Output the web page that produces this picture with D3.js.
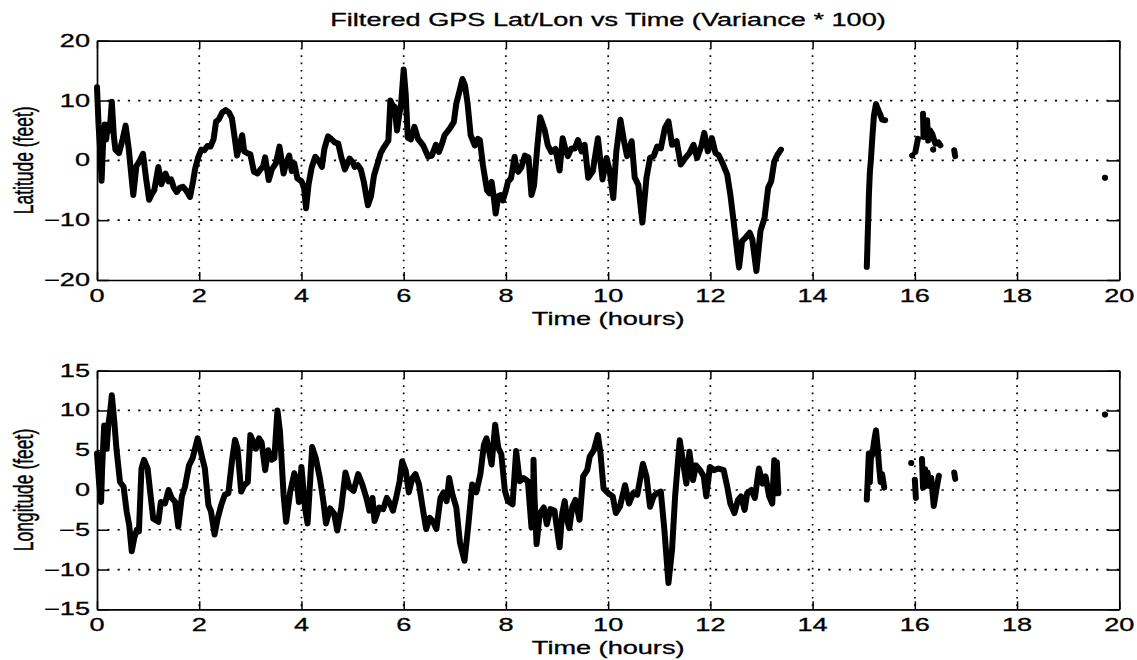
<!DOCTYPE html>
<html><head><meta charset="utf-8">
<script src="https://cdn.jsdelivr.net/npm/d3@7"></script>
<style>
html,body{margin:0;padding:0;background:#fff;}
svg{display:block;}
text{font-family:"Liberation Sans",Arial,Helvetica,sans-serif;fill:#000;}
</style>
</head><body>
<svg id="c" width="1137" height="660"></svg>
<script>
// ---------------- DATA ----------------
const chartTitle = "Filtered GPS Lat/Lon vs Time (Variance * 100)";
const xAxisTitle = "Time (hours)";
const latAxisTitle = "Latitude (feet)";
const lonAxisTitle = "Longitude (feet)";

const timeTicks = [0,2,4,6,8,10,12,14,16,18,20];
const timeTickLabels = ["0","2","4","6","8","10","12","14","16","18","20"];
const latTicks = [-20,-10,0,10,20];
const latTickLabels = ["\u221220","\u221210","0","10","20"];
const lonTicks = [-15,-10,-5,0,5,10,15];
const lonTickLabels = ["\u221215","\u221210","\u22125","0","5","10","15"];

// [time (hours), latitude (feet)], null = gap in the record
const latPoints = [
[0,12.2],[0.03,6],[0.06,2],[0.09,-3.4],[0.12,3],[0.15,6],[0.18,3.5],[0.21,6],[0.25,5],[0.29,9.8],[0.33,4],[0.36,1.8],[0.43,1.2],[0.5,3.5],[0.56,5.8],[0.62,2],[0.71,-5.8],[0.77,-1],[0.84,0],[0.9,1.1],[0.96,-3],[1.02,-6.6],[1.08,-5.5],[1.12,-5],[1.2,-1.1],[1.26,-4],[1.3,-3],[1.34,-2.2],[1.4,-3.5],[1.45,-3.2],[1.5,-4.5],[1.56,-5.3],[1.62,-4.6],[1.68,-4.4],[1.74,-5],[1.82,-6.1],[1.88,-3.5],[1.92,-1.4],[1.98,0.5],[2.04,1.8],[2.1,1.7],[2.16,2.4],[2.22,2.3],[2.28,3.5],[2.33,6.5],[2.38,6.8],[2.45,8],[2.52,8.4],[2.58,8],[2.64,7],[2.69,4],[2.74,0.8],[2.79,2.5],[2.84,4.2],[2.88,1.5],[2.94,1.2],[3.0,1],[3.07,-1.9],[3.14,-2.2],[3.2,-1.5],[3.25,-1.0],[3.29,0.5],[3.36,-3.3],[3.42,-1.5],[3.5,-0.5],[3.57,2.3],[3.65,-2.2],[3.7,-0.5],[3.76,0.8],[3.81,-1.8],[3.86,-0.5],[3.92,-3.0],[4.0,-3.5],[4.05,-4.5],[4.09,-8],[4.14,-4],[4.2,-1.2],[4.27,0.6],[4.33,0],[4.4,-1.1],[4.45,2],[4.52,4],[4.58,3.6],[4.65,3],[4.72,2.8],[4.78,0.5],[4.85,-1.5],[4.94,0.3],[5.0,-0.3],[5.04,-1.1],[5.1,-0.8],[5.16,-1.5],[5.22,-3.6],[5.3,-7.5],[5.36,-6],[5.42,-2.5],[5.48,-0.8],[5.55,1.2],[5.6,2],[5.66,2.8],[5.7,3.3],[5.74,10],[5.78,9.2],[5.82,9],[5.87,5],[5.91,7.5],[5.95,9.5],[6.0,15.2],[6.04,11],[6.08,3.8],[6.14,3.5],[6.21,5.6],[6.28,3.6],[6.38,2.5],[6.48,0.6],[6.55,0.8],[6.63,2.6],[6.69,1.4],[6.75,2.8],[6.8,4.2],[6.9,5.3],[6.98,6.4],[7.03,9.5],[7.09,11.5],[7.15,13.6],[7.2,12.5],[7.25,9.5],[7.31,4.2],[7.39,2.5],[7.45,3.6],[7.49,3.4],[7.55,-0.8],[7.63,-5],[7.68,-5.5],[7.72,-3.6],[7.76,-6],[7.8,-8.9],[7.85,-6],[7.9,-5.8],[7.94,-6.7],[8.0,-5],[8.04,-3.6],[8.1,-3.0],[8.17,0.6],[8.21,-1.5],[8.24,-1.9],[8.3,-1.2],[8.37,0.8],[8.44,0.5],[8.5,-5.8],[8.55,-4.2],[8.61,1.9],[8.67,7.2],[8.72,6],[8.76,5],[8.82,2.5],[8.89,1.4],[8.97,1.9],[9.05,-1.7],[9.11,3.7],[9.16,2],[9.21,0.7],[9.28,2],[9.35,2],[9.41,3.4],[9.48,1.5],[9.54,2.6],[9.61,-2.9],[9.7,-1.8],[9.8,3.7],[9.89,-3.2],[9.97,0.4],[10.03,-1.8],[10.1,-6.3],[10.16,1.5],[10.24,6.8],[10.31,3.2],[10.37,0.7],[10.46,3.2],[10.52,-2.9],[10.59,-4.1],[10.67,-10.4],[10.75,-2.9],[10.82,0.4],[10.89,0.7],[10.96,2.3],[11.03,2],[11.11,5.4],[11.18,6.5],[11.25,2.6],[11.34,3.2],[11.42,-0.7],[11.51,0.4],[11.59,1.2],[11.67,2.6],[11.74,0.4],[11.82,2.3],[11.88,4.6],[11.95,1.5],[12.03,3.7],[12.1,1.2],[12.16,0.9],[12.25,-0.7],[12.33,-2.4],[12.39,-5.7],[12.47,-11.3],[12.56,-17.9],[12.62,-13.5],[12.69,-12.9],[12.77,-12.1],[12.82,-13.2],[12.9,-18.5],[12.98,-11.8],[13.06,-9.6],[13.13,-4.6],[13.19,-3.5],[13.25,-0.2],[13.31,0.9],[13.38,1.8],
null,
[15.06,-17.8],[15.07,-15],[15.08,-12],[15.09,-9.5],[15.1,-6],[15.12,-2],[15.14,0],[15.17,4],[15.2,7.5],[15.24,9.4],[15.28,8.5],[15.33,7.5],[15.36,6.8],[15.42,6.7],
null,[15.95,0.8],null,[16.01,1.4],[16.06,3.6],null,[16.16,7.8],[16.17,3.9],null,
[16.24,6.7],[16.26,3.3],[16.3,5.0],[16.34,4.4],[16.4,2.8],[16.46,3.0],[16.5,2.5],
null,[16.36,1.8],null,[16.77,1.7],[16.79,0.7],null,[19.72,-2.9]
];

// [time (hours), longitude (feet)], null = gap in the record
const lonPoints = [
[0,4.6],[0.04,1],[0.08,-1.5],[0.1,2.7],[0.14,8.1],[0.19,5.2],[0.22,8.1],[0.26,10],[0.29,11.9],[0.34,8.5],[0.38,5.2],[0.45,1],[0.52,0.4],[0.58,-2.7],[0.63,-4.4],[0.68,-7.7],[0.73,-6],[0.78,-5],[0.82,-5.2],[0.87,2.7],[0.92,3.8],[0.99,2.7],[1.04,-0.2],[1.1,-3.6],[1.2,-4],[1.25,-1.5],[1.33,-1.7],[1.4,0],[1.46,-1],[1.53,-1.5],[1.59,-4.6],[1.66,-0.8],[1.72,0.4],[1.8,3.1],[1.87,4],[1.97,6.5],[2.06,4],[2.11,2.7],[2.18,-1.9],[2.23,-2.7],[2.3,-5.6],[2.36,-3.6],[2.43,-1.9],[2.5,-0.6],[2.57,-0.4],[2.64,3.6],[2.7,6.3],[2.75,5.2],[2.82,-0.2],[2.88,0.6],[2.95,1],[3.0,6.9],[3.06,6],[3.11,5.2],[3.17,6.5],[3.22,6],[3.29,2.5],[3.35,5],[3.42,3.8],[3.47,4],[3.53,10],[3.58,7.3],[3.65,-0.6],[3.7,-4],[3.78,-0.2],[3.86,2.1],[3.91,1],[3.95,-1.5],[4.0,2.9],[4.07,-2.3],[4.12,-4.2],[4.21,5.4],[4.28,4],[4.36,1.5],[4.43,-1.5],[4.48,-4.2],[4.56,-2.3],[4.64,-3.0],[4.7,-5.1],[4.78,-2.2],[4.86,2.2],[4.94,0.3],[5.02,-0.1],[5.11,2],[5.19,0.7],[5.27,-1],[5.33,-2.6],[5.39,-1],[5.43,-3.9],[5.52,-2.2],[5.6,-2.4],[5.67,-1],[5.74,-1.8],[5.79,-2.6],[5.86,-0.75],[5.92,1.1],[5.97,3.6],[6.04,2.4],[6.1,-0.3],[6.17,1.5],[6.23,2],[6.3,0.7],[6.38,-2.6],[6.44,-4.9],[6.51,-3.5],[6.57,-3.9],[6.64,-4.9],[6.72,-1],[6.78,-0.3],[6.84,-1.4],[6.89,1.5],[6.95,-0.5],[7.03,-2.2],[7.1,-6.6],[7.19,-8.9],[7.26,-4.7],[7.34,0.7],[7.42,-0.3],[7.5,2],[7.57,5.7],[7.62,6.5],[7.67,4.9],[7.72,3.2],[7.79,8.2],[7.85,5.3],[7.91,4.5],[7.98,-0.1],[8.04,-1.4],[8.13,-1.8],[8.2,4.9],[8.27,1.1],[8.34,1.5],[8.43,1.1],[8.5,-4.7],[8.53,-4.5],[8.54,3.8],[8.56,-1],[8.6,-6.8],[8.66,-3],[8.74,-2.2],[8.8,-4.3],[8.87,-2.4],[8.95,-2.6],[9.05,-7.2],[9.1,-3],[9.15,-1.4],[9.2,-3.8],[9.24,-4.8],[9.3,-2.1],[9.36,-1.25],[9.44,-3.75],[9.51,1.7],[9.59,2.5],[9.64,4.2],[9.72,5],[9.8,6.9],[9.85,4.6],[9.91,0.2],[10.0,-0.4],[10.09,-0.8],[10.15,-2.9],[10.23,-2.1],[10.33,0.6],[10.41,-1.7],[10.49,-0.4],[10.57,-0.6],[10.68,3.3],[10.75,1.7],[10.82,-2.1],[10.89,-0.8],[10.95,-0.4],[11.03,-0.2],[11.1,-5],[11.18,-11.7],[11.25,-7.5],[11.31,-0.8],[11.4,6.25],[11.46,3.75],[11.53,0.8],[11.59,4.8],[11.66,1.25],[11.72,3.1],[11.8,2.5],[11.87,1.7],[11.92,-0.8],[11.99,2.9],[12.07,2.5],[12.16,2.7],[12.26,2.5],[12.33,0.4],[12.39,-1.7],[12.47,-2.9],[12.54,-1.25],[12.6,-0.8],[12.67,-2.5],[12.72,-0.4],[12.8,0],[12.87,-1],[12.95,2.7],[13.02,0.8],[13.08,1.7],[13.15,-0.8],[13.21,-1.7],[13.25,3.75],[13.28,-0.4],[13.3,3.5],[13.33,-0.4],
null,
[15.06,-1.2],[15.08,1.5],[15.1,4.6],[15.12,1.0],[15.14,4.0],[15.17,4.5],[15.2,6.0],[15.24,7.5],[15.27,5.5],[15.3,3.0],[15.33,1.0],[15.36,2.0],[15.4,0.3],
null,[15.93,3.4],null,[16.0,1.3],[16.02,-1.0],null,[16.14,3.9],[16.16,0.3],null,
[16.2,2.6],[16.22,0.5],[16.25,2.2],[16.28,0.5],null,
[16.32,1.5],[16.37,-2.0],[16.42,0.0],[16.47,1.8],null,
[16.77,2.2],[16.79,1.4],null,[19.72,9.5]
];

// ---------------- DRAWING ----------------
const svg = d3.select("#c");
const SX = 1.55;      // horizontal stretch of the scanned lettering
const FS = 17.5;
const X0 = 97, X1 = 1119.3;
const x = d3.scaleLinear().domain([0, 20]).range([X0, X1]);

function stretchedText(parent, str, tx, ty, anchor, rotate) {
  return parent.append("text")
    .attr("transform", `translate(${tx},${ty}) scale(${SX},1)` + (rotate ? " rotate(-90)" : ""))
    .attr("text-anchor", anchor)
    .attr("font-size", FS)
    .attr("stroke", "#000").attr("stroke-width", 0.3)
    .text(str);
}

stretchedText(svg, chartTitle, 608, 26, "middle");

const panels = [
  {pts: latPoints, ticks: latTicks, labels: latTickLabels, dom: [-20, 20], top: 40.7, bot: 280, ylab: latAxisTitle},
  {pts: lonPoints, ticks: lonTicks, labels: lonTickLabels, dom: [-15, 15], top: 370.7, bot: 609.3, ylab: lonAxisTitle}
];

panels.forEach(p => {
  const y = d3.scaleLinear().domain(p.dom).range([p.bot, p.top]);
  const g = svg.append("g");

  // dotted grid
  g.selectAll("line.vg").data(timeTicks.filter(t => t > 0 && t < 20)).join("line")
    .attr("class", "vg")
    .attr("x1", d => x(d)).attr("x2", d => x(d))
    .attr("y1", p.top).attr("y2", p.bot)
    .attr("stroke", "#000").attr("stroke-width", 1.7)
    .attr("stroke-dasharray", "1.6 5.7");
  g.selectAll("line.hg").data(p.ticks.filter(t => t > p.dom[0] && t < p.dom[1])).join("line")
    .attr("class", "hg")
    .attr("x1", X0).attr("x2", X1)
    .attr("y1", d => y(d)).attr("y2", d => y(d))
    .attr("stroke", "#000").attr("stroke-width", 1.7)
    .attr("stroke-dasharray", "2.2 8.1");

  // data line
  const line = d3.line().defined(d => d !== null).x(d => x(d[0])).y(d => y(d[1]));
  g.append("path").datum(p.pts).attr("d", line)
    .attr("fill", "none").attr("stroke", "#000").attr("stroke-width", 6)
    .attr("stroke-linejoin", "round").attr("stroke-linecap", "round");
  const isolated = p.pts.filter((d, i) => d !== null &&
    (i === 0 || p.pts[i - 1] === null) && (i === p.pts.length - 1 || p.pts[i + 1] === null));
  g.selectAll("circle").data(isolated).join("circle")
    .attr("cx", d => x(d[0])).attr("cy", d => y(d[1])).attr("r", 2.8).attr("fill", "#000");

  // axes box with inward ticks
  const styleAxis = sel => {
    sel.select(".domain").attr("stroke-width", 1.7);
    sel.selectAll(".tick line").attr("stroke-width", 1.5);
  };
  g.append("g").attr("transform", `translate(0,${p.bot})`)
    .call(d3.axisBottom(x).tickValues(timeTicks).tickSizeInner(-8).tickSizeOuter(0).tickFormat(""))
    .call(styleAxis);
  g.append("g").attr("transform", `translate(0,${p.top})`)
    .call(d3.axisTop(x).tickValues(timeTicks).tickSizeInner(-8).tickSizeOuter(0).tickFormat(""))
    .call(styleAxis);
  g.append("g").attr("transform", `translate(${X0},0)`)
    .call(d3.axisLeft(y).tickValues(p.ticks).tickSizeInner(-12).tickSizeOuter(0).tickFormat(""))
    .call(styleAxis);
  g.append("g").attr("transform", `translate(${X1},0)`)
    .call(d3.axisRight(y).tickValues(p.ticks).tickSizeInner(-12).tickSizeOuter(0).tickFormat(""))
    .call(styleAxis);

  // tick labels
  timeTicks.forEach((t, i) => stretchedText(g, timeTickLabels[i], x(t), p.bot + 22, "middle"));
  p.ticks.forEach((t, i) => stretchedText(g, p.labels[i], X0 - 7, y(t) + 6, "end"));

  // axis titles
  stretchedText(g, xAxisTitle, (X0 + X1) / 2, p.bot + 44.5, "middle");
  stretchedText(g, p.ylab, 32.5, (p.top + p.bot) / 2, "middle", true);
});
</script>
</body></html>
